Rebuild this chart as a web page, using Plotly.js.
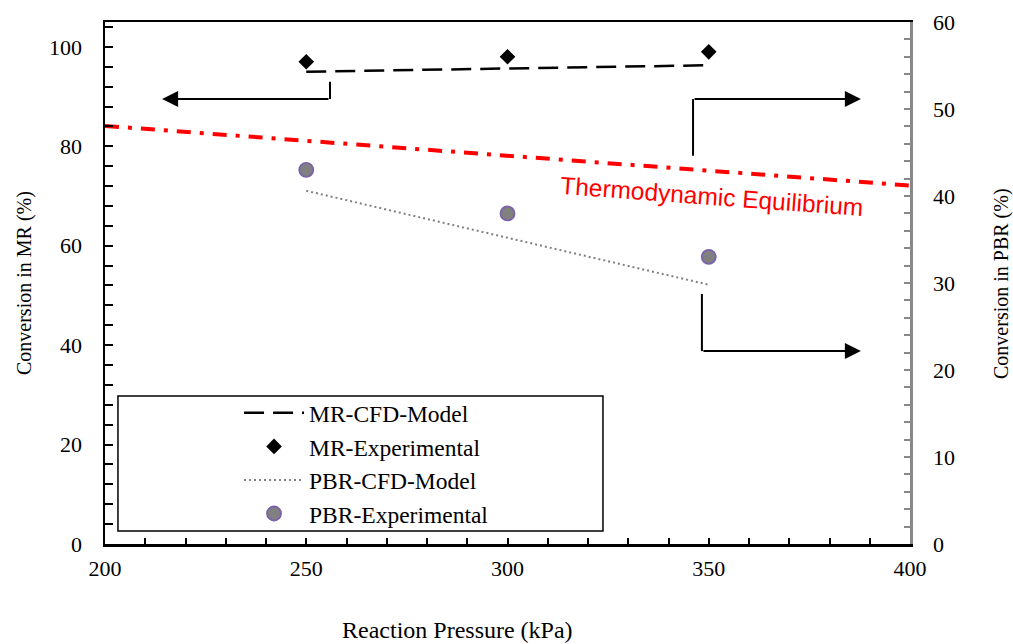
<!DOCTYPE html>
<html>
<head>
<meta charset="utf-8">
<script src="https://cdn.plot.ly/plotly-3.0.1.min.js"></script>
<style>
  html, body { margin: 0; padding: 0; background: #fff; }
  #chart { width: 1013px; height: 644px; }
</style>
</head>
<body>
<div id="chart"></div>
<script>
// Reaction pressure (kPa) at which the reactors were run
const pressure = [250, 300, 350];

// Membrane reactor conversion (%), left axis
const mrModel = [95.0, 95.7, 96.3];
const mrExp = [97, 98, 99];

// Packed-bed reactor conversion (%), right axis
const pbrModel = [40.6, 35.2, 29.8];
const pbrExp = [43, 38, 33];

// Equilibrium conversion limit (%), left axis
const eqPressure = [200, 400];
const eqConversion = [84.1, 72.1];

const serif = 'Liberation Serif, Times New Roman, serif';

const traces = [
  {
    x: pressure, y: mrModel, name: 'MR-CFD-Model', mode: 'lines',
    line: { color: '#000', width: 2.5, dash: '20px,9px' },
    xaxis: 'x', yaxis: 'y'
  },
  {
    x: pressure, y: mrExp, name: 'MR-Experimental', mode: 'markers',
    marker: { symbol: 'diamond', size: 12, color: '#000' },
    xaxis: 'x', yaxis: 'y'
  },
  {
    x: pressure, y: pbrModel, name: 'PBR-CFD-Model', mode: 'lines',
    line: { color: '#808080', width: 2, dash: '2px,3px' },
    xaxis: 'x', yaxis: 'y2'
  },
  {
    x: pressure, y: pbrExp, name: 'PBR-Experimental', mode: 'markers',
    marker: { symbol: 'circle', size: 14, color: '#808080', line: { color: '#7b62a8', width: 1.8 } },
    xaxis: 'x', yaxis: 'y2'
  },
  {
    x: eqPressure, y: eqConversion, name: 'Thermodynamic Equilibrium', mode: 'lines',
    line: { color: '#ff0000', width: 4, dash: '14px,9px,4px,9px' },
    showlegend: false, xaxis: 'x', yaxis: 'y'
  }
];

// Elbow connectors pointing each curve to its axis
const arrowLine = { color: '#000', width: 2 };
const shapes = [
  { type: 'line', xref: 'x', yref: 'y', x0: 255.9, y0: 93.0, x1: 255.9, y1: 89.5, line: arrowLine },
  { type: 'line', xref: 'x', yref: 'y', x0: 346.1, y0: 78.1, x1: 346.1, y1: 89.5, line: arrowLine },
  { type: 'line', xref: 'x', yref: 'y', x0: 348.3, y0: 50.3, x1: 348.3, y1: 38.8, line: arrowLine },
  // legend frame
  { type: 'rect', xref: 'paper', yref: 'paper', x0: 0.0161, x1: 0.6186, y0: 0.0249, y1: 0.2835,
    line: { color: '#000', width: 1.5 }, fillcolor: 'rgba(0,0,0,0)' }
];

function arrow(tipX, tipY, tailX, tailY) {
  return {
    x: tipX, y: tipY, ax: tailX, ay: tailY, xref: 'x', yref: 'y', axref: 'x', ayref: 'y',
    text: '', showarrow: true, arrowhead: 2, arrowsize: 1.6, arrowwidth: 2, arrowcolor: '#000'
  };
}

const annotations = [
  arrow(214.2, 89.5, 255.9, 89.5),
  arrow(387.8, 89.5, 346.1, 89.5),
  arrow(387.8, 38.8, 348.3, 38.8),
  {
    text: 'Thermodynamic Equilibrium', xref: 'paper', yref: 'paper',
    x: 0.754, y: 0.666, xanchor: 'center', yanchor: 'middle', showarrow: false,
    textangle: 4.2, font: { family: 'Liberation Sans, Arial, sans-serif', size: 24.5, color: '#ff0000' }
  },
  {
    text: 'Reaction Pressure (kPa)', xref: 'paper', yref: 'paper',
    x: 0.4373, y: -0.164, xanchor: 'center', yanchor: 'middle', showarrow: false,
    font: { family: serif, size: 24, color: '#000' }
  },
  {
    text: 'Conversion in MR (%)', xref: 'paper', yref: 'paper',
    x: -0.1006, y: 0.5, xanchor: 'center', yanchor: 'middle', showarrow: false, textangle: -90,
    font: { family: serif, size: 20, color: '#000' }
  },
  {
    text: 'Conversion in PBR (%)', xref: 'paper', yref: 'paper',
    x: 1.113, y: 0.5, xanchor: 'center', yanchor: 'middle', showarrow: false, textangle: -90,
    font: { family: serif, size: 20, color: '#000' }
  }
];

const tickFont = { family: serif, size: 22, color: '#000' };

const layout = {
  width: 1013, height: 644,
  margin: { l: 105, r: 103, t: 22, b: 100, pad: 0 },
  paper_bgcolor: '#fff', plot_bgcolor: '#fff',
  showlegend: true,
  legend: {
    x: 0.1665, y: 0.293, xanchor: 'left', yanchor: 'top',
    bgcolor: 'rgba(0,0,0,0)', borderwidth: 0, itemwidth: 60,
    font: { family: serif, size: 23.5, color: '#000' }
  },
  xaxis: {
    range: [200, 400], dtick: 50, tick0: 200,
    showgrid: false, zeroline: false,
    showline: true, linecolor: '#000', linewidth: 2.5, mirror: true,
    ticks: 'inside', ticklen: 6, tickwidth: 2, tickcolor: '#000',
    minor: { dtick: 10, ticks: 'inside', ticklen: 6, tickwidth: 2, tickcolor: '#000', showgrid: false },
    tickfont: tickFont, ticklabelstandoff: 3
  },
  yaxis: {
    range: [0, 105], dtick: 20, tick0: 0,
    showgrid: false, zeroline: false,
    showline: true, linecolor: '#000', linewidth: 2.5,
    ticks: 'inside', ticklen: 8, tickwidth: 2, tickcolor: '#000',
    minor: { dtick: 4, ticks: 'inside', ticklen: 8, tickwidth: 2, tickcolor: '#000', showgrid: false },
    tickfont: tickFont, ticklabelstandoff: 16
  },
  yaxis2: {
    range: [0, 60], dtick: 10, tick0: 0, overlaying: 'y', side: 'right',
    showgrid: false, zeroline: false,
    showline: true, linecolor: '#888', linewidth: 2.5,
    ticks: 'inside', ticklen: 6, tickwidth: 2, tickcolor: '#888',
    minor: { dtick: 2, ticks: 'inside', ticklen: 6, tickwidth: 2, tickcolor: '#888', showgrid: false },
    tickfont: tickFont, ticklabelstandoff: 16
  },
  shapes: shapes,
  annotations: annotations
};

Plotly.newPlot('chart', traces, layout, { displayModeBar: false, staticPlot: true });
</script>
</body>
</html>
